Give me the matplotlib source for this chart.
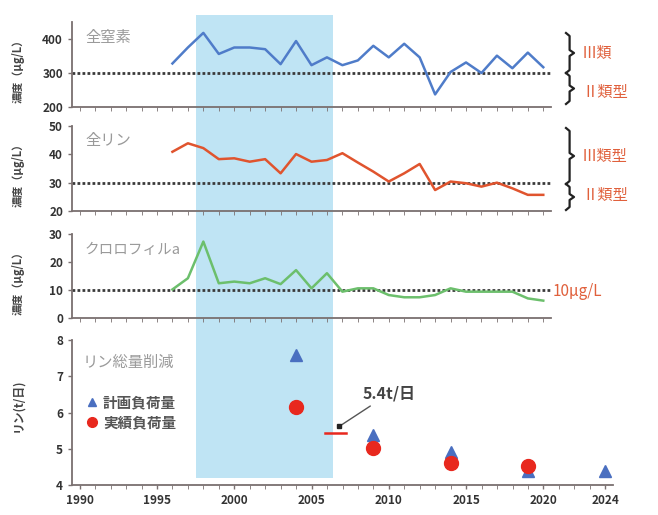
import numpy as np
import matplotlib
matplotlib.use("Agg")
import matplotlib.pyplot as plt
import matplotlib.transforms as mtransforms
from matplotlib.patches import Rectangle
from matplotlib.lines import Line2D

plt.rcParams['font.family'] = ['Noto Sans CJK JP', 'DejaVu Sans']

# --- data ---
years = list(range(1996, 2021))
nitrogen = [328, 375, 418, 356, 375, 375, 370, 326, 394, 323, 346, 323, 337, 380, 346,
            386, 346, 237, 303, 331, 300, 351, 314, 360, 317]
phosphorus = [40.9, 43.9, 42.2, 38.3, 38.6, 37.4, 38.3, 33.3, 40.1, 37.4, 38.0, 40.4, 37.1,
              33.9, 30.4, 33.3, 36.6, 27.4, 30.4, 29.8, 28.6, 30.0, 28.0, 25.7, 25.7]
chlorophyll = [10.2, 14.2, 27.3, 12.4, 13.0, 12.4, 14.2, 12.1, 17.1, 10.6, 16.0, 9.4, 10.6,
               10.6, 8.2, 7.4, 7.4, 8.2, 10.6, 9.4, 9.4, 9.4, 9.4, 7.0, 6.2]

load_years = [2004, 2009, 2014, 2019, 2024]
planned_load = [7.59, 5.38, 4.92, 4.38, 4.38]
actual_years = [2004, 2009, 2014, 2019]
actual_load = [6.14, 5.01, 4.62, 4.52]

standards = [300, 30, 10]
shade_period = (1997.5, 2006.4)
xticks = [1990, 1995, 2000, 2005, 2010, 2015, 2020, 2024]

W, H = 658, 515


def fx(px):
    return px / W


def fy(py):
    return 1 - py / H


fig = plt.figure(figsize=(W / 100, H / 100), dpi=100)

spine_c = '#7a7070'
tick_c = '#333333'
label_gray = '#9a9a9a'
red_txt = '#e0603c'


def make_axes(top, bottom, right):
    ax = fig.add_axes([fx(72), fy(bottom), fx(right) - fx(72), (bottom - top) / H])
    ax.patch.set_visible(False)
    for s in ['top', 'right']:
        ax.spines[s].set_visible(False)
    for s in ['left', 'bottom']:
        ax.spines[s].set_color(spine_c)
        ax.spines[s].set_linewidth(1.3)
    ax.tick_params(axis='both', colors=spine_c, labelcolor=tick_c, labelsize=8.5,
                   direction='out', length=3, width=1)
    ax.set_xticks(range(1990, 2025), minor=True)
    ax.tick_params(axis='x', which='minor', length=3, color=spine_c)
    for lab in ax.get_yticklabels():
        lab.set_fontweight('bold')
    return ax


ax1 = make_axes(22, 107, 551)
ax2 = make_axes(126, 211, 551)
ax3 = make_axes(234, 318, 551)
ax4 = make_axes(340, 485, 613)

for ax in (ax1, ax2, ax3):
    ax.set_xlim(1989.5, 2020.5)
    ax.set_xticks([])
    ax.set_xticks(range(1990, 2021), minor=True)
ax4.set_xlim(1989.5, 2024.5)

ax1.set_ylim(200, 450)
ax1.set_yticks([200, 300, 400])
ax2.set_ylim(20, 50)
ax2.set_yticks([20, 30, 40, 50])
ax3.set_ylim(0, 30)
ax3.set_yticks([0, 10, 20, 30])
ax4.set_ylim(4, 8)
ax4.set_yticks([4, 5, 6, 7, 8])
ax4.set_xticks(xticks)
ax4.set_xticklabels([str(x) for x in xticks], fontweight='bold', fontsize=8.5)
for ax in (ax1, ax2, ax3, ax4):
    for lab in ax.get_yticklabels():
        lab.set_fontweight('bold')

# threshold lines
for ax, s in zip((ax1, ax2, ax3), standards):
    ax.axhline(s, color='#3a3a3a', lw=2.0, linestyle=(0, (1, 0.8)), zorder=2)

ax1.plot(years, nitrogen, color='#4f7cc9', lw=1.8, zorder=3)
ax2.plot(years, phosphorus, color='#e0542e', lw=1.8, zorder=3)
ax3.plot(years, chlorophyll, color='#6cbf6c', lw=1.8, zorder=3)

ax4.plot(load_years, planned_load, linestyle='none', marker='^', ms=9,
         color='#4a6fc0', zorder=3)
ax4.plot(actual_years, actual_load, linestyle='none', marker='o', ms=10,
         color='#e8281e', zorder=4)

# 5.4 t/day target
ax4.plot([2005.9, 2007.2], [5.43, 5.43], color='#e8281e', lw=1.8, zorder=3)
ax4.plot([2007.2, 2007.2], [5.43, 5.43], color='#e8281e')
ax4.annotate('5.4t/日', xy=(2006.8, 5.62), xytext=(2008.3, 6.38),
             fontsize=11.5, fontweight='bold', color='#444444',
             arrowprops=dict(arrowstyle='-', color='#555555', lw=1.0))
ax4.plot([2006.8], [5.62], marker='s', ms=3, color='#222222', zorder=5)

# panel titles
ax1.text(1990.4, 405, '全窒素', color=label_gray, fontsize=11, va='center')
ax2.text(1990.4, 45, '全リン', color=label_gray, fontsize=11, va='center')
ax3.text(1990.3, 24.3, 'クロロフィルa', color=label_gray, fontsize=10.5,
         va='center', style='italic')
ax4.text(1990.2, 7.39, 'リン総量削減', color=label_gray, fontsize=11, va='center')

# legend
ax4.plot([1990.8], [6.29], marker='^', ms=6, color='#4a6fc0', linestyle='none')
ax4.text(1991.5, 6.29, '計画負荷量', color='#555555', fontsize=10.5,
         fontweight='bold', va='center')
ax4.plot([1990.8], [5.74], marker='o', ms=7, color='#e8281e', linestyle='none')
ax4.text(1991.5, 5.74, '実績負荷量', color='#555555', fontsize=10.5,
         fontweight='bold', va='center')

# y labels
for top, bottom in ((22, 107), (126, 211), (234, 318)):
    fig.text(fx(18), fy((top + bottom) / 2 + 4), '濃度（μg/L）', rotation=90,
             ha='center', va='center', fontsize=8, fontweight='bold', color='#444444')
fig.text(fx(18), fy(405), 'リン(t/日)', rotation=90, ha='center', va='center',
         fontsize=8.5, fontweight='bold', color='#444444')


# braces and class labels
def brace(y_top, y_bot, x=566, w=8):
    ym = (y_top + y_bot) / 2
    xc = x + w * 0.45
    r = 3
    pts = [(x, y_top), (xc, y_top + r), (xc, ym - r), (x + w, ym),
           (xc, ym + r), (xc, y_bot - r), (x, y_bot)]
    fig.add_artist(Line2D([fx(p[0]) for p in pts], [fy(p[1]) for p in pts],
                          color='#222222', lw=1.6, transform=fig.transFigure))


brace(33, 73)
brace(73, 104)
brace(128, 184)
brace(184, 210)

fig.text(fx(582), fy(53), 'Ⅲ類', color=red_txt, fontsize=11, va='center')
fig.text(fx(582), fy(92), 'Ⅱ類型', color=red_txt, fontsize=11, va='center')
fig.text(fx(582), fy(156), 'Ⅲ類型', color=red_txt, fontsize=11, va='center')
fig.text(fx(582), fy(196), 'Ⅱ類型', color=red_txt, fontsize=11, va='center')
fig.text(fx(553), fy(291), '10μg/L', color=red_txt, fontsize=11, va='center')

# shaded period across all panels
trans = mtransforms.blended_transform_factory(ax4.transData, fig.transFigure)
rect = Rectangle((shade_period[0], fy(478)), shade_period[1] - shade_period[0],
                 fy(15) - fy(478), transform=trans, facecolor='#bfe4f4',
                 edgecolor='none', zorder=-1)
fig.add_artist(rect)

fig.savefig('out.png', dpi=100)
